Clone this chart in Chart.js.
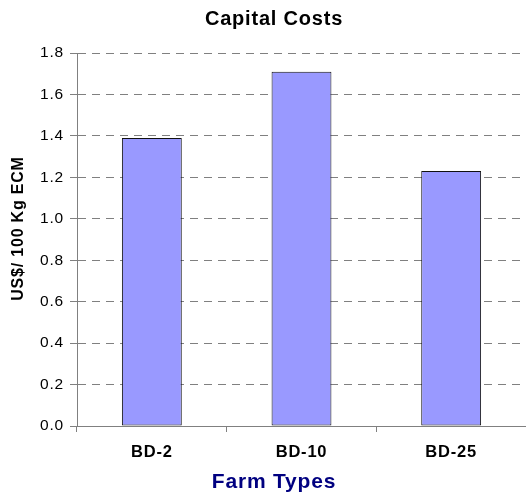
<!DOCTYPE html>
<html>
<head>
<meta charset="utf-8">
<script src="https://cdn.jsdelivr.net/npm/chart.js@4"></script>
<style>
html, body { margin: 0; padding: 0; background: #ffffff; }
#wrap { width: 526px; height: 497px; }
</style>
</head>
<body>
<div id="wrap"><canvas id="c" width="526" height="497"></canvas></div>
<script>
const categories = ["BD-2", "BD-10", "BD-25"];
const capitalCosts = [1.39, 1.71, 1.23];
const chartTitle = "Capital Costs";
const xAxisTitle = "Farm Types";
const yAxisTitle = "US$/ 100 Kg ECM";
const yMin = 0, yMax = 1.8, yStep = 0.2;

const FONT = "'Liberation Sans', Arial, sans-serif";
const GRAY = "#808080";
const SPACING = "0.8px";

const spacingPlugin = {
  id: "spacing",
  beforeUpdate(chart) { chart.ctx.letterSpacing = SPACING; },
  beforeLayout(chart) { chart.ctx.letterSpacing = SPACING; },
  beforeDraw(chart) { chart.ctx.letterSpacing = SPACING; }
};

new Chart(document.getElementById("c"), {
  type: "bar",
  plugins: [spacingPlugin],
  data: {
    labels: categories,
    datasets: [{
      data: capitalCosts,
      backgroundColor: "#9999FF",
      borderColor: "#111111",
      borderWidth: 1,
      borderSkipped: false,
      barPercentage: 0.4,
      categoryPercentage: 1.0
    }]
  },
  options: {
    responsive: false,
    animation: false,
    devicePixelRatio: 1,
    layout: { padding: { left: 22, right: 0, top: 0, bottom: 0 } },
    plugins: {
      legend: { display: false },
      tooltip: { enabled: false },
      title: {
        display: true,
        text: chartTitle,
        color: "#000000",
        font: { family: FONT, size: 20, weight: "bold" },
        padding: { top: 7, bottom: 22 }
      },
      subtitle: {
        display: true,
        position: "bottom",
        text: xAxisTitle,
        color: "#000080",
        font: { family: FONT, size: 21, weight: "bold" },
        padding: { top: 0, bottom: 2.4 }
      }
    },
    scales: {
      x: {
        offset: true,
        grid: {
          display: true,
          offset: true,
          drawOnChartArea: false,
          drawTicks: true,
          tickLength: 6,
          tickColor: GRAY
        },
        border: { display: true, color: GRAY, width: 1 },
        ticks: {
          color: "#000000",
          padding: 10.6,
          font: { family: FONT, size: 16.5, weight: "bold" }
        },
        afterFit: (s) => { s.height = 43.4; }
      },
      y: {
        min: yMin,
        max: yMax,
        grid: {
          color: GRAY,
          lineWidth: 1,
          drawTicks: true,
          tickLength: 7,
          tickColor: GRAY
        },
        border: { display: true, color: GRAY, width: 1, dash: [8, 6] },
        ticks: {
          stepSize: yStep,
          color: "#000000",
          padding: 6,
          font: { family: FONT, size: 15.5 },
          callback: (v) => Number(v).toFixed(1)
        },
        title: {
          display: true,
          text: yAxisTitle,
          color: "#000000",
          font: { family: FONT, size: 16, weight: "bold" },
          padding: { top: -13.5, bottom: 0 }
        },
        afterFit: (s) => {
          s.width = 55;
          if (!s._titleShifted) {
            const orig = s.drawTitle;
            s.drawTitle = function () {
              const ctx = this.ctx;
              ctx.save();
              ctx.translate(0, -11);
              orig.apply(this, arguments);
              ctx.restore();
            };
            s._titleShifted = true;
          }
        }
      }
    }
  }
});
</script>
</body>
</html>
